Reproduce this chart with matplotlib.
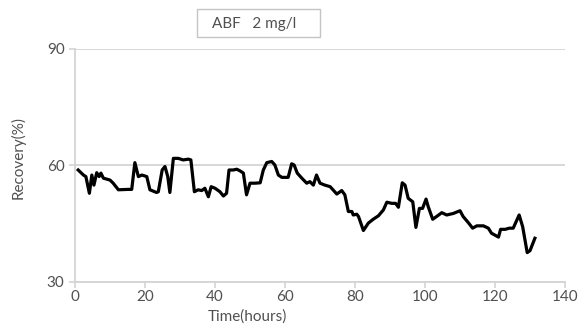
import matplotlib
matplotlib.use('Agg')
import matplotlib.pyplot as plt
from matplotlib.patches import Rectangle

# ------- Data -------
hours = [0.9, 2.4, 3.1, 4.1, 4.8, 5.4, 6.2, 6.9, 7.4, 8.1, 10.0, 10.9, 12.4, 15.2, 16.2,
         17.1, 18.1, 19.1, 20.5, 21.4, 23.3, 23.8, 24.9, 25.7, 26.5, 27.1, 28.1, 29.5,
         30.9, 32.4, 33.1, 34.1, 35.2, 36.2, 37.1, 38.1, 38.9, 40.0, 41.4, 42.4, 43.3,
         44.0, 45.2, 46.2, 47.1, 48.1, 49.0, 50.0, 51.4, 52.9, 53.8, 54.8, 56.2, 57.1,
         58.1, 59.1, 60.9, 61.9, 62.6, 63.5, 64.8, 66.2, 67.1, 68.1, 69.0, 70.0, 71.4,
         72.9, 74.8, 76.2, 77.1, 78.1, 79.1, 79.5, 80.5, 81.0, 82.4, 83.8, 85.2, 86.7,
         88.1, 89.1, 90.5, 91.6, 92.4, 93.5, 94.3, 95.2, 96.5, 97.4, 98.4, 99.3, 100.3,
         100.9, 102.2, 103.3, 104.8, 106.2, 108.1, 110.0, 110.9, 112.4, 113.6, 114.8,
         116.7, 118.1, 119.0, 121.0, 121.6, 122.9, 124.1, 125.2, 126.9, 127.9, 129.2,
         130.0, 131.4]
recovery = [58.8, 57.5, 57.1, 52.8, 57.5, 54.9, 58.1, 57.1, 58.0, 56.7, 56.2, 55.4, 53.7,
            53.8, 53.8, 60.7, 57.1, 57.5, 57.1, 53.7, 53.0, 53.2, 58.8, 59.7, 57.1, 53.0,
            61.8, 61.8, 61.4, 61.6, 61.4, 53.2, 53.7, 53.5, 54.1, 51.9, 54.5, 54.1, 53.2,
            52.1, 52.8, 58.8, 58.8, 59.0, 58.6, 58.0, 52.4, 55.4, 55.4, 55.5, 58.8, 60.7,
            61.0, 60.1, 57.5, 56.9, 56.9, 60.4, 60.1, 58.0, 56.7, 55.4, 55.8, 54.9, 57.5,
            55.4, 54.9, 54.5, 52.6, 53.5, 52.4, 48.1, 48.1, 47.2, 47.4, 46.8, 43.2, 45.1,
            46.1, 47.0, 48.5, 50.5, 50.2, 50.2, 49.2, 55.5, 54.9, 51.5, 50.6, 44.0, 48.9,
            48.9, 51.3, 49.4, 46.1, 46.8, 47.8, 47.2, 47.6, 48.3, 46.8, 45.2, 43.8, 44.4,
            44.4, 43.8, 42.5, 41.5, 43.5, 43.5, 43.8, 43.8, 47.2, 44.2, 37.5, 38.0, 41.2]

x_ticks = [0, 20, 40, 60, 80, 100, 120, 140]
y_ticks = [30, 60, 90]
legend_text = 'ABF   2 mg/l'

plt.rcParams['font.family'] = ['Lato', 'DejaVu Sans']

axis_grey = '#d4d4d4'
text_grey = '#505050'

fig = plt.figure(figsize=(5.78, 3.26), dpi=100)
ax = fig.add_axes([0.1298, 0.1359, 0.8477, 0.7138])

ax.plot(hours, recovery, color='black', linewidth=2.3, solid_joinstyle='round')

ax.set_xlim(0, 140)
ax.set_ylim(30, 90)
ax.set_xticks(x_ticks)
ax.set_yticks(y_ticks)
ax.yaxis.grid(True, color=axis_grey, linewidth=1.3)
ax.set_axisbelow(True)

for side in ['top', 'right']:
    ax.spines[side].set_visible(False)
for side in ['left', 'bottom']:
    ax.spines[side].set_color(axis_grey)
    ax.spines[side].set_linewidth(1.3)

ax.tick_params(axis='both', colors=axis_grey, length=4, width=1.2,
               labelcolor=text_grey, labelsize=11)
ax.tick_params(axis='x', pad=2)

# x label sits left of centre, under 40-60, as in the source
ax.set_xlabel('Time(hours)', fontsize=11, color=text_grey)
ax.xaxis.set_label_coords(0.352, -0.12)
ax.set_ylabel('Recovery(%)', fontsize=11, color=text_grey)
ax.yaxis.set_label_coords(-0.10, 0.535)

# Legend-like box above the plot
fig.patches.append(Rectangle((0.341, 0.887), 0.213, 0.085, transform=fig.transFigure,
                             facecolor='white', edgecolor='#c4c4c4', linewidth=1.0))
fig.text(0.367, 0.926, legend_text, fontsize=11, color=text_grey, va='center', ha='left')

fig.savefig('out.png', dpi=100)
